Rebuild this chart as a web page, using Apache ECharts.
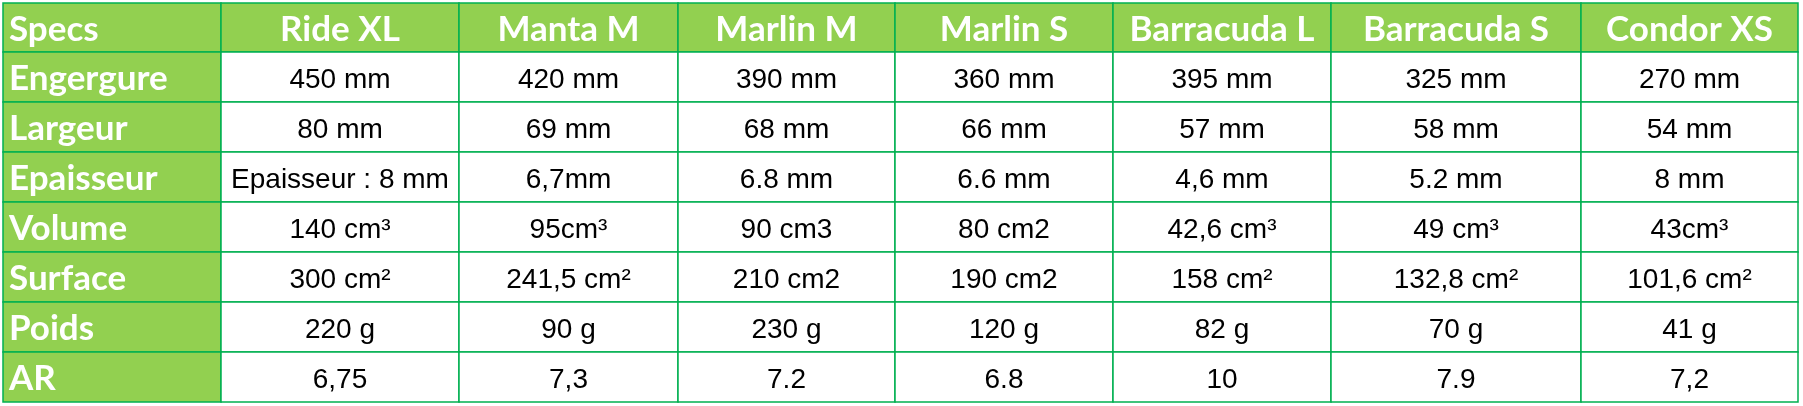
<!DOCTYPE html>
<html><head><meta charset="utf-8">
<script src="https://cdn.jsdelivr.net/npm/echarts@6/dist/echarts.min.js"></script>
<style>html,body{margin:0;padding:0;background:#fff}#c{width:1803px;height:406px}</style>
</head><body><div id="c"></div>
<script>
const cornerLabel = 'Specs';
const models = ['Ride XL','Manta M','Marlin M','Marlin S','Barracuda L','Barracuda S','Condor XS'];
const specs = ['Engergure','Largeur','Epaisseur','Volume','Surface','Poids','AR'];
const engergure = ['450 mm','420 mm','390 mm','360 mm','395 mm','325 mm','270 mm'];
const largeur = ['80 mm','69 mm','68 mm','66 mm','57 mm','58 mm','54 mm'];
const epaisseur = ['Epaisseur : 8 mm','6,7mm','6.8 mm','6.6 mm','4,6 mm','5.2 mm','8 mm'];
const volume = ['140 cm³','95cm³','90 cm3','80 cm2','42,6 cm³','49 cm³','43cm³'];
const surface = ['300 cm²','241,5 cm²','210 cm2','190 cm2','158 cm²','132,8 cm²','101,6 cm²'];
const poids = ['220 g','90 g','230 g','120 g','82 g','70 g','41 g'];
const ar = ['6,75','7,3','7.2','6.8','10','7.9','7,2'];

const rowsValues = [engergure, largeur, epaisseur, volume, surface, poids, ar];

// layout (not data)
const colWidths = [218,238,219,217,218,218,250,217];
const rowHeights = [49,50,50,50,50,50,50,50];
const xEdges = [0]; colWidths.forEach(w => xEdges.push(xEdges[xEdges.length-1] + w));
const yEdges = [0]; rowHeights.forEach(h => yEdges.push(yEdges[yEdges.length-1] + h));

const cells = [];
cells.push({c:0, r:0, text:cornerLabel, kind:'side'});
models.forEach((m,i) => cells.push({c:i+1, r:0, text:m, kind:'head'}));
specs.forEach((s,r) => {
  cells.push({c:0, r:r+1, text:s, kind:'side'});
  rowsValues[r].forEach((v,c) => cells.push({c:c+1, r:r+1, text:v, kind:'body'}));
});

const chart = echarts.init(document.getElementById('c'));
chart.setOption({
  animation: false,
  grid: {left: 3, right: 5, top: 3, bottom: 4},
  xAxis: {type:'value', min:0, max:xEdges[xEdges.length-1], show:false},
  yAxis: {type:'value', min:0, max:yEdges[yEdges.length-1], inverse:true, show:false},
  series: [{
    type: 'custom',
    clip: false,
    data: cells.map(d => [d.c, d.r]),
    renderItem: function(params, api) {
      const d = cells[params.dataIndex];
      const p0 = api.coord([xEdges[d.c], yEdges[d.r]]);
      const p1 = api.coord([xEdges[d.c+1], yEdges[d.r+1]]);
      const green = d.kind !== 'body' || d.r === 0;
      const isBold = d.kind !== 'body';
      const tx = d.kind === 'side' ? p0[0] + 6 : (p0[0] + p1[0]) / 2;
      const ty = (p0[1] + p1[1]) / 2 + (isBold ? 2 : 3.5);
      return {
        type: 'group',
        children: [
          {type:'rect', shape:{x:p0[0], y:p0[1], width:p1[0]-p0[0], height:p1[1]-p0[1]},
           style:{fill: green ? '#92D050' : '#FFFFFF', stroke:'#00B050', lineWidth:1.5}},
          {type:'text', style:{
            text: d.text, x: tx, y: ty,
            align: d.kind === 'side' ? 'left' : 'center', verticalAlign: 'middle',
            fill: isBold ? '#FFFFFF' : '#000000',
            fontFamily: isBold ? 'Lato' : 'Liberation Sans',
            fontWeight: isBold ? 'bold' : 'normal',
            fontSize: isBold ? 35 : 28
          }}
        ]
      };
    }
  }]
});
</script></body></html>
